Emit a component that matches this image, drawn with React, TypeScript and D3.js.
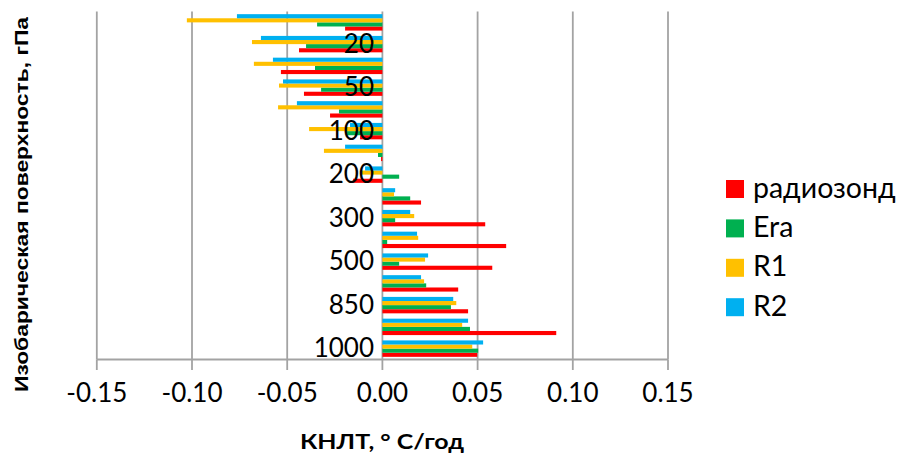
import { useEffect, useRef } from "react";
import * as d3 from "d3";

// pressure levels, top to bottom
const levels = ["10", "20", "30", "50", "70", "100", "150", "200", "250", "300", "400", "500", "700", "850", "925", "1000"];
const shownLevels = ["20", "50", "100", "200", "300", "500", "850", "1000"];

const seriesNames = ["радиозонд", "Era", "R1", "R2"];
const seriesColors = ["#ff0000", "#00b050", "#ffc000", "#00b0f0"];

const radiosonde = [-0.0196, -0.0438, -0.0533, -0.0412, -0.0275, -0.0117, -0.0007, -0.0154, 0.0203, 0.054, 0.065, 0.0577, 0.0398, 0.045, 0.0913, 0.0498];
const era = [-0.0343, -0.0401, -0.0354, -0.0322, -0.0228, -0.019, -0.0023, 0.0088, 0.0146, 0.0067, 0.0025, 0.0088, 0.023, 0.036, 0.046, 0.0503];
const r1 = [-0.1027, -0.0685, -0.0675, -0.0543, -0.0548, -0.0385, -0.0307, -0.0107, 0.0061, 0.0167, 0.0188, 0.0224, 0.0219, 0.0388, 0.0419, 0.0472];
const r2 = [-0.0764, -0.0638, -0.0575, -0.0522, -0.0449, -0.017, -0.0196, -0.0091, 0.0067, 0.0146, 0.0182, 0.024, 0.0203, 0.0372, 0.045, 0.0529];

const xTicks = [-0.15, -0.1, -0.05, 0, 0.05, 0.1, 0.15];
const xTickLabels = ["-0.15", "-0.10", "-0.05", "0.00", "0.05", "0.10", "0.15"];

export default function App() {
  const ref = useRef<SVGSVGElement>(null);

  useEffect(() => {
    const svg = d3.select(ref.current);
    svg.selectAll("*").remove();

    const width = 905;
    const height = 454;
    svg.attr("width", width).attr("height", height);

    const x = d3.scaleLinear().domain([-0.15, 0.15]).range([96.8, 668]);
    const y = d3
      .scaleBand()
      .domain(levels)
      .range([11.5, 359.5])
      .paddingInner(0.245)
      .paddingOuter(0.1225);
    // within a group the first series sits at the bottom
    const inner = d3
      .scaleBand()
      .domain(["R2", "R1", "Era", "радиозонд"])
      .range([0, y.bandwidth()]);

    const values = [radiosonde, era, r1, r2];

    // vertical gridlines
    svg
      .append("g")
      .selectAll("line")
      .data(xTicks)
      .join("line")
      .attr("x1", (d) => x(d))
      .attr("x2", (d) => x(d))
      .attr("y1", 11.5)
      .attr("y2", 359.5)
      .attr("stroke", "#a3a3a3")
      .attr("stroke-width", 1.8);

    // bars
    values.forEach((vals, si) => {
      svg
        .append("g")
        .selectAll("rect")
        .data(vals)
        .join("rect")
        .attr("x", (d) => x(Math.min(0, d)))
        .attr("width", (d) => Math.abs(x(d) - x(0)))
        .attr("y", (_, i) => (y(levels[i]) as number) + (inner(seriesNames[si]) as number))
        .attr("height", inner.bandwidth())
        .attr("fill", seriesColors[si]);
    });

    // bottom axis line and ticks
    svg
      .append("line")
      .attr("x1", x(-0.15))
      .attr("x2", x(0.15))
      .attr("y1", 359.5)
      .attr("y2", 359.5)
      .attr("stroke", "#a3a3a3")
      .attr("stroke-width", 1.8);
    svg
      .append("g")
      .selectAll("line")
      .data(xTicks)
      .join("line")
      .attr("x1", (d) => x(d))
      .attr("x2", (d) => x(d))
      .attr("y1", 359.5)
      .attr("y2", 370)
      .attr("stroke", "#a3a3a3")
      .attr("stroke-width", 1.8);

    // x tick labels
    svg
      .append("g")
      .selectAll("text")
      .data(xTicks)
      .join("text")
      .attr("x", (d) => x(d))
      .attr("y", 402)
      .attr("text-anchor", "middle")
      .attr("font-family", "Lato")
      .attr("font-size", 26)
      .attr("fill", "#000")
      .text((_, i) => xTickLabels[i]);

    // category labels, every other level, drawn over the bars
    svg
      .append("g")
      .selectAll("text")
      .data(shownLevels)
      .join("text")
      .attr("x", 374)
      .attr("y", (d) => (y(d) as number) + y.bandwidth() / 2 + 8.5)
      .attr("text-anchor", "end")
      .attr("font-family", "Lato")
      .attr("font-size", 26)
      .attr("fill", "#000")
      .text((d) => d);

    // axis titles
    svg
      .append("text")
      .attr("x", 382)
      .attr("y", 449)
      .attr("text-anchor", "middle")
      .attr("font-family", "Lato")
      .attr("font-weight", "bold")
      .attr("font-size", 21)
      .attr("textLength", 164)
      .attr("lengthAdjust", "spacingAndGlyphs")
      .text("КНЛТ, ° С/год");

    svg
      .append("text")
      .attr("transform", "translate(27.5,204.5) rotate(-90)")
      .attr("text-anchor", "middle")
      .attr("font-family", "Liberation Sans")
      .attr("font-weight", "bold")
      .attr("font-size", 19)
      .attr("textLength", 375)
      .attr("lengthAdjust", "spacingAndGlyphs")
      .text("Изобарическая поверхность, гПа");

    // legend
    const legend = svg
      .append("g")
      .selectAll("g")
      .data(seriesNames)
      .join("g")
      .attr("transform", (_, i) => `translate(726,${189 + i * 39.4})`);
    legend
      .append("rect")
      .attr("x", 0)
      .attr("y", -9)
      .attr("width", 18)
      .attr("height", 18)
      .attr("fill", (_, i) => seriesColors[i]);
    legend
      .append("text")
      .attr("x", 27)
      .attr("y", 8.5)
      .attr("font-family", "Lato")
      .attr("font-size", 28.5)
      .attr("fill", "#000")
      .text((d) => d);
  }, []);

  return <svg ref={ref} style={{ position: "absolute", left: 0, top: 0 }}></svg>;
}
